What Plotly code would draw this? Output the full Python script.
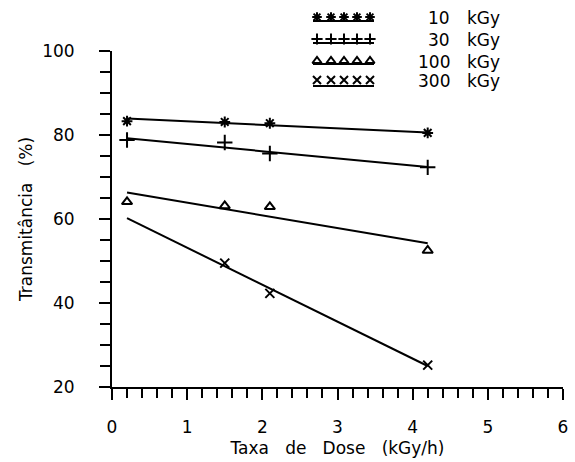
import plotly.graph_objects as go

# ---- data ----
dose_rate = [0.2, 1.5, 2.1, 4.2]
t10 = [83.3, 83.1, 82.8, 80.5]
t30 = [78.8, 78.2, 75.6, 72.3]
t100 = [64.1, 63.1, 62.9, 52.5]
dose_rate_300 = [1.5, 2.1, 4.2]
t300 = [49.5, 42.3, 25.2]

fit_x = [0.2, 4.2]
fit10 = [83.9, 80.6]
fit30 = [79.2, 72.4]
fit100 = [66.3, 54.2]
fit300 = [60.2, 25.0]

series_labels = ["10", "30", "100", "300"]
unit_label = "kGy"
NB = "\u00a0"
x_title = f"Taxa{NB*3}de{NB*3}Dose{NB*3}(kGy/h)"
y_title = f"Transmitância{NB*3}(%)"

FONT = "DejaVu Sans"
W, H = 575, 462
PLOT_LEFT, PLOT_RIGHT = 112, 563
PLOT_TOP, PLOT_BOTTOM = 51, 387
CANVAS_TOP = 5
L, R, T, B = PLOT_LEFT, W - PLOT_RIGHT, CANVAS_TOP, H - PLOT_BOTTOM
main_dom_top = (PLOT_BOTTOM - PLOT_TOP) / (PLOT_BOTTOM - CANVAS_TOP)

symbols = ["asterisk-open", "cross-thin-open", "triangle-up-open", "x-thin-open"]
sizes = [9, 11, 9, 9]

fig = go.Figure()

fits = [fit10, fit30, fit100, fit300]
pts = [(dose_rate, t10), (dose_rate, t30), (dose_rate, t100), (dose_rate_300, t300)]
for i in range(4):
    fig.add_trace(go.Scatter(x=fit_x, y=fits[i], mode="lines",
                             line=dict(color="black", width=2), showlegend=False,
                             hoverinfo="skip"))
    fig.add_trace(go.Scatter(x=pts[i][0], y=pts[i][1], mode="markers",
                             marker=dict(symbol=symbols[i], size=sizes[i], color="black",
                                         line=dict(color="black", width=2)),
                             showlegend=False))

# ---- custom legend on a pixel-unit overlay axis ----
leg_rows_y = [17, 39, 61, 80]
leg_line_y = [21, 43, 64, 86]
leg_marker_x = [317, 331, 344, 357, 370]
for i in range(4):
    fig.add_trace(go.Scatter(x=[313, 374], y=[leg_line_y[i]] * 2, mode="lines",
                             line=dict(color="black", width=2), xaxis="x2", yaxis="y2",
                             showlegend=False, hoverinfo="skip"))
    fig.add_trace(go.Scatter(x=leg_marker_x, y=[leg_rows_y[i]] * 5, mode="markers",
                             marker=dict(symbol=symbols[i], size=8, color="black",
                                         line=dict(color="black", width=2)),
                             xaxis="x2", yaxis="y2", showlegend=False, hoverinfo="skip"))
    fig.add_annotation(x=452, y=leg_rows_y[i] + 1, xref="x2", yref="y2", text=series_labels[i],
                       showarrow=False, xanchor="right", yanchor="middle",
                       font=dict(family=FONT, size=17, color="black"))
    fig.add_annotation(x=465, y=leg_rows_y[i] + 1, xref="x2", yref="y2", text=unit_label,
                       showarrow=False, xanchor="left", yanchor="middle",
                       font=dict(family=FONT, size=17, color="black"))

axis_font = dict(family=FONT, size=17, color="black")

fig.update_layout(
    width=W, height=H,
    margin=dict(l=L, r=R, t=T, b=B),
    paper_bgcolor="white", plot_bgcolor="rgba(0,0,0,0)",
    font=axis_font,
    showlegend=False,
    xaxis=dict(range=[0, 6], tickmode="linear", tick0=0, dtick=1,
               ticks="outside", ticklen=11, tickwidth=2, tickcolor="black",
               showline=True, linewidth=2, linecolor="black", mirror=False,
               showgrid=False, zeroline=False, tickfont=axis_font, automargin=False,
               ticklabelstandoff=13,
               minor=dict(dtick=0.2, ticks="outside", ticklen=9, tickwidth=1.5,
                          tickcolor="black", showgrid=False),
               title=dict(text=x_title, font=axis_font, standoff=6)),
    yaxis=dict(range=[20, 100], domain=[0, main_dom_top], tickmode="linear", tick0=20, dtick=20,
               ticks="outside", ticklen=11, tickwidth=2, tickcolor="black",
               showline=True, linewidth=2, linecolor="black", automargin=False,
               showgrid=False, zeroline=False, tickfont=axis_font,
               ticklabelstandoff=21,
               minor=dict(dtick=5, ticks="outside", ticklen=10, tickwidth=1.5,
                          tickcolor="black", showgrid=False),
               title=dict(text=y_title, font=axis_font, standoff=5)),
    xaxis2=dict(range=[PLOT_LEFT, PLOT_RIGHT], overlaying="x", visible=False, fixedrange=True),
    yaxis2=dict(range=[PLOT_BOTTOM, CANVAS_TOP], domain=[0, 1], anchor="x2",
                visible=False, fixedrange=True),
)

fig.write_html("out.html")
